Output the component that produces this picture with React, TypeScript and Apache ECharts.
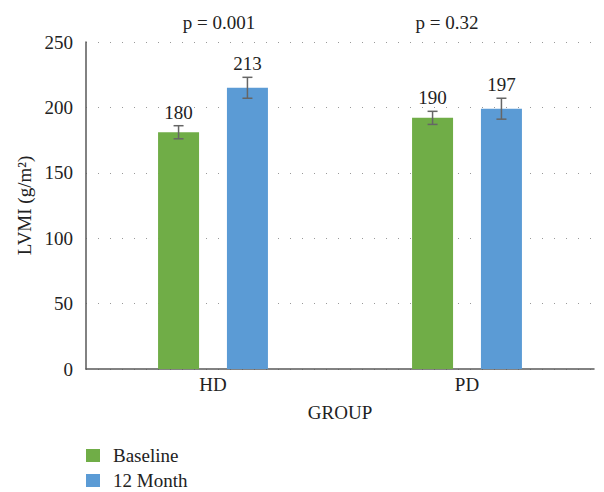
import React, { useEffect, useRef } from "react";
import * as echarts from "echarts";

const categories = ["HD", "PD"];
const seriesNames = ["Baseline", "12 Month"];
const baselineValues = [181, 192];
const monthValues = [215, 199];
const baselineErrors = [5, 5];
const monthErrors = [8, 8];
const baselineLabels = ["180", "190"];
const monthLabels = ["213", "197"];
const pValues = ["p = 0.001", "p = 0.32"];
const colors = ["#70AD47", "#5B9BD5"];

const FONT = "'Liberation Serif', 'Times New Roman', serif";
const FS = 19;
const BAR_WIDTH = 41;
const BAR_GAP = 0.68;

export default function App() {
  const ref = useRef<HTMLDivElement>(null);
  useEffect(() => {
    if (!ref.current) return;
    const chart = echarts.init(ref.current, null, { renderer: "svg" });
    const offset = (BAR_WIDTH + BAR_GAP * BAR_WIDTH) / 2;
    const errData: any[] = [];
    categories.forEach((_, i) => {
      errData.push([i, 0, baselineValues[i], baselineErrors[i], baselineLabels[i]]);
      errData.push([i, 1, monthValues[i], monthErrors[i], monthLabels[i]]);
    });
    const pPositions = [219, 447];
    const legendBase = {
      orient: "vertical",
      left: 86,
      padding: 0,
      itemWidth: 14,
      itemHeight: 13,
      icon: "rect",
      textStyle: { fontFamily: FONT, fontSize: FS, color: "#222", padding: [0, 0, 0, 8] },
    };
    chart.setOption({
      animation: false,
      textStyle: { fontFamily: FONT },
      grid: { left: 86, right: 10, top: 42, bottom: 123 },
      legend: [
        { ...legendBase, data: [seriesNames[0]], top: 446 },
        { ...legendBase, data: [seriesNames[1]], top: 471 },
      ],
      graphic: pValues.map((t, i) => ({
        type: "text",
        x: pPositions[i],
        y: 22,
        style: {
          text: t,
          fontFamily: FONT,
          fontSize: FS,
          fill: "#222",
          align: "center",
          verticalAlign: "middle",
        },
      })),
      xAxis: {
        type: "category",
        data: categories,
        name: "GROUP",
        nameLocation: "middle",
        nameGap: 34,
        nameTextStyle: { fontFamily: FONT, fontSize: FS, color: "#222" },
        axisLine: { lineStyle: { color: "#595959", width: 1.5 } },
        axisTick: { show: false },
        axisLabel: { fontFamily: FONT, fontSize: FS, color: "#222", margin: 6 },
      },
      yAxis: {
        type: "value",
        min: 0,
        max: 250,
        interval: 50,
        name: "LVMI (g/m²)",
        nameLocation: "middle",
        nameGap: 52,
        nameTextStyle: { fontFamily: FONT, fontSize: FS, color: "#222" },
        axisLine: { show: true, lineStyle: { color: "#595959", width: 1.5 } },
        axisTick: { show: false },
        axisLabel: { fontFamily: FONT, fontSize: FS, color: "#222", margin: 13 },
        splitLine: { lineStyle: { color: "#999", type: [1, 11], width: 1.2 } },
      },
      series: [
        {
          name: seriesNames[0],
          type: "bar",
          data: baselineValues,
          barWidth: BAR_WIDTH,
          barGap: BAR_GAP * 100 + "%",
          itemStyle: { color: colors[0] },
        },
        {
          name: seriesNames[1],
          type: "bar",
          data: monthValues,
          barWidth: BAR_WIDTH,
          barGap: BAR_GAP * 100 + "%",
          itemStyle: { color: colors[1] },
        },
        {
          type: "custom",
          data: errData,
          z: 5,
          renderItem: (params: any, api: any) => {
            const cat = api.value(0);
            const s = api.value(1);
            const mean = api.value(2);
            const err = api.value(3);
            const label = errData[params.dataIndex][4];
            const top = api.coord([cat, mean + err]);
            const bot = api.coord([cat, mean - err]);
            const x = top[0] + (s === 0 ? -offset : offset);
            const cap = 5;
            const style = { stroke: "#666", lineWidth: 1.5 };
            return {
              type: "group",
              children: [
                { type: "line", shape: { x1: x, y1: top[1], x2: x, y2: bot[1] }, style },
                { type: "line", shape: { x1: x - cap, y1: top[1], x2: x + cap, y2: top[1] }, style },
                { type: "line", shape: { x1: x - cap, y1: bot[1], x2: x + cap, y2: bot[1] }, style },
                {
                  type: "text",
                  x: x,
                  y: top[1] - 4,
                  style: {
                    text: label,
                    fontFamily: FONT,
                    fontSize: FS,
                    fill: "#222",
                    align: "center",
                    verticalAlign: "bottom",
                  },
                },
              ],
            };
          },
        },
      ],
    });
    return () => chart.dispose();
  }, []);
  return (
    <div
      ref={ref}
      style={{ position: "fixed", left: 0, top: 0, width: 604, height: 492, background: "#fff" }}
    />
  );
}
